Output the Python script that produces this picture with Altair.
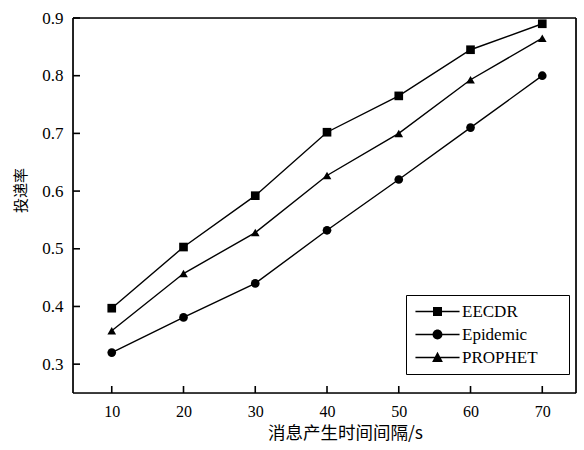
import altair as alt
import pandas as pd

intervals = [10, 20, 30, 40, 50, 60, 70]
series_names = ["EECDR", "Epidemic", "PROPHET"]
eecdr = [0.397, 0.503, 0.592, 0.702, 0.765, 0.845, 0.890]
epidemic = [0.320, 0.381, 0.440, 0.532, 0.620, 0.710, 0.800]
prophet = [0.358, 0.457, 0.528, 0.627, 0.700, 0.793, 0.865]
x_ticks = [10, 20, 30, 40, 50, 60, 70]
y_ticks = [0.3, 0.4, 0.5, 0.6, 0.7, 0.8, 0.9]
x_range = [4.6, 74.7]
y_range = [0.25, 0.9]

rows = []
for name, vals in zip(series_names, [eecdr, epidemic, prophet]):
    for x, v in zip(intervals, vals):
        rows.append({"interval": x, "rate": v, "series": name})
df = pd.DataFrame(rows)
xt = pd.DataFrame({"xtick": x_ticks, "ybase": [y_range[0]] * len(x_ticks)})
yt = pd.DataFrame({"ytick": y_ticks, "xbase": [x_range[0]] * len(y_ticks)})
frame = pd.DataFrame({
    "fx": [x_range[0], x_range[1], x_range[0], x_range[0]],
    "fx2": [x_range[0], x_range[1], x_range[1], x_range[1]],
    "fy": [y_range[0], y_range[0], y_range[0], y_range[1]],
    "fy2": [y_range[1], y_range[1], y_range[0], y_range[1]],
})

W, H = 503, 375
xs = alt.Scale(domain=x_range, nice=False, zero=False)
ys = alt.Scale(domain=y_range, nice=False, zero=False)
num_font = "Liberation Serif"
cjk_font = "Noto Sans CJK SC"

x_axis = alt.Axis(orient="bottom", values=x_ticks, ticks=False, domain=False, grid=False,
                  labelFont=num_font, labelFontSize=16, labelColor="black", labelPadding=10,
                  title="消息产生时间间隔/s", titleFont=cjk_font, titleFontSize=17.5,
                  titleFontWeight="normal", titleColor="black", titlePadding=5,
                  titleX=272)
y_axis = alt.Axis(orient="left", values=y_ticks, ticks=False, domain=False, grid=False,
                  format=".1f", labelFont=num_font, labelFontSize=17, labelColor="black",
                  labelPadding=10, title="投递率", titleFont=cjk_font, titleFontSize=15,
                  titleFontWeight="normal", titleColor="black", titlePadding=13,
                  titleY=172)

base = alt.Chart(df)

frame_layer = alt.Chart(frame).mark_rule(color="black", strokeWidth=1.7).encode(
    x=alt.X("fx:Q", scale=xs, axis=x_axis),
    x2="fx2:Q",
    y=alt.Y("fy:Q", scale=ys, axis=y_axis),
    y2="fy2:Q",
)

lines = base.mark_line(color="black", strokeWidth=1.4).encode(
    x=alt.X("interval:Q", scale=xs, axis=x_axis),
    y=alt.Y("rate:Q", scale=ys, axis=y_axis),
    detail="series:N",
)

points = base.mark_point(filled=True, color="black", size=75, opacity=1).encode(
    x=alt.X("interval:Q", scale=xs, axis=x_axis),
    y=alt.Y("rate:Q", scale=ys, axis=y_axis),
    shape=alt.Shape("series:N", scale=alt.Scale(domain=series_names,
                                                range=["square", "circle", "triangle-up"]),
                    legend=None),
)

# inward ticks: one-sided tick symbols placed by the data scales
x_tick_marks = alt.Chart(xt).mark_point(
    shape="M0,0V-1", filled=False, stroke="black", strokeWidth=1.6, size=196, opacity=1
).encode(
    x=alt.X("xtick:Q", scale=xs, axis=x_axis),
    y=alt.Y("ybase:Q", scale=ys, axis=y_axis),
)
y_tick_marks = alt.Chart(yt).mark_point(
    shape="M0,0H1", filled=False, stroke="black", strokeWidth=1.6, size=196, opacity=1
).encode(
    y=alt.Y("ytick:Q", scale=ys, axis=y_axis),
    x=alt.X("xbase:Q", scale=xs, axis=x_axis),
)

legend_paths = [
    "M-4.9,-0.15H4.9V0.15H-4.9ZM-1,-1H1V1H-1Z",
    "M-4.9,-0.15H4.9V0.15H-4.9ZM-1.1,0A1.1,1.1,0,1,1,1.1,0A1.1,1.1,0,1,1,-1.1,0Z",
    "M-4.9,-0.15H4.9V0.15H-4.9ZM-1.2,1L0,-1.3L1.2,1Z",
]

legend_layer = base.transform_filter("false").mark_point(filled=True, color="black").encode(
    shape=alt.Shape("series:N", scale=alt.Scale(domain=series_names, range=legend_paths),
                    legend=alt.Legend(title=".", titleOrient="right", titleColor="transparent",
                                      titleFontSize=2, titlePadding=22,
                                      orient="none", legendX=333, legendY=277,
                                      strokeColor="black", padding=8, symbolSize=81,
                                      symbolFillColor="black", symbolStrokeColor="black",
                                      symbolStrokeWidth=0, symbolOpacity=1,
                                      labelFont=num_font, labelFontSize=17, labelColor="black",
                                      labelOffset=16, rowPadding=5, symbolOffset=15)),
)

chart = alt.layer(frame_layer, lines, points, x_tick_marks, y_tick_marks, legend_layer).resolve_scale(
    shape="independent"
).properties(
    width=W, height=H,
    autosize=alt.AutoSizeParams(type="none"),
    padding={"left": 73, "top": 18, "right": 8, "bottom": 57},
).configure_view(stroke="black", strokeWidth=1.6).configure(background="white")

chart.save("out.html", embed_options={"renderer": "svg", "actions": False})
